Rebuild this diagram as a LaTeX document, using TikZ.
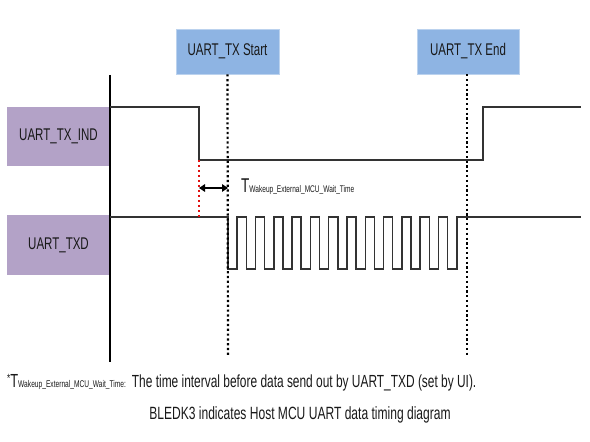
\documentclass[tikz,border=0pt]{standalone}
\usepackage{fontspec}
\setmainfont[FakeStretch=0.68]{Liberation Sans}
\usetikzlibrary{arrows.meta}
\definecolor{boxblue}{HTML}{8EB4E3}
\definecolor{boxpurple}{HTML}{B3A2C7}
\definecolor{sig}{HTML}{333333}
\definecolor{redmark}{HTML}{E01010}
\begin{document}
\begin{tikzpicture}[x=1bp,y=-1bp,
  lbl/.style={font=\fontsize{17}{20}\selectfont, inner sep=0pt, text=black!90},
  bluebox/.style={lbl, fill=boxblue, draw=boxblue!60!white, line width=0.6bp, minimum width=103bp, minimum height=45bp},
  purplebox/.style={lbl, fill=boxpurple, minimum width=103bp},
  signal/.style={line width=1.5bp, draw=sig},
  marker/.style={line width=2.2bp, dash pattern=on 2.2bp off 2.6bp, draw=black},
  redline/.style={line width=2bp, dash pattern=on 2.4bp off 2.6bp, draw=redmark},
  timearrow/.style={line width=1.5bp, {Triangle[length=6bp,width=7.5bp]}-{Triangle[length=6bp,width=7.5bp]}}]
\useasboundingbox (0,0) rectangle (590,442);
% boxes
\node[bluebox] (start) at (227.5,51.5) {UART\_TX Start};
\node[bluebox, minimum width=102bp] (end) at (468,51.5) {UART\_TX End};
\node[purplebox, minimum height=59bp] (ind) at (58.5,136.5) {UART\_TX\_IND};
\node[purplebox, minimum height=60bp] (txd) at (58.5,245) {UART\_TXD};
% axis
\coordinate (axtop) at (110,75);
\coordinate (axbot) at (110,362);
\draw[line width=1.9bp] (axtop) -- (axbot);
% signals
\draw[signal] (110,107) -- (199,107) -- (199,160) -- (483,160) -- (483,107) -- (581,107);
\draw[signal] (110,217) -- (228,217)
  foreach \k in {0,...,12} { -- ++(0,52) -- ++(9.15,0) -- ++(0,-52) -- ++(9.15,0) }
  -- (581,217);
% dotted markers
\coordinate (startbot) at (228,355);
\coordinate (endbot) at (467,355);
\draw[marker] (start.south) -- (startbot);
\draw[marker] (end.south -| endbot) -- (endbot);
% red dashed line
\coordinate (redtop) at (199,160);
\coordinate (redbot) at (199,217);
\draw[redline] (redtop) -- (redbot);
% time arrow
\coordinate (arl) at (199,188);
\coordinate (arr) at (228,188);
\draw[timearrow] (arl) -- (arr);
\node[anchor=base west, inner sep=0pt, text=black!90] (twait) at (241,193)
  {{\fontsize{20}{20}\selectfont T}{\fontsize{9.7}{10}\selectfont Wakeup\_External\_MCU\_Wait\_Time}};
% footnote
\node[anchor=base west, inner sep=0pt, text=black!90] (note) at (7,387)
  {{\fontsize{12}{12}\selectfont\raisebox{5bp}{*}}{\fontsize{19}{20}\selectfont T}{\fontsize{9.8}{10}\selectfont Wakeup\_External\_MCU\_Wait\_Time:}\hspace{6bp}{\fontsize{17.6}{20}\selectfont The time interval before data send out by UART\_TXD (set by UI).}};
% caption
\node[lbl, anchor=base, font=\fontsize{17.8}{20}\selectfont] (caption) at (300,419) {BLEDK3 indicates Host MCU UART data timing diagram};
\end{tikzpicture}
\end{document}
